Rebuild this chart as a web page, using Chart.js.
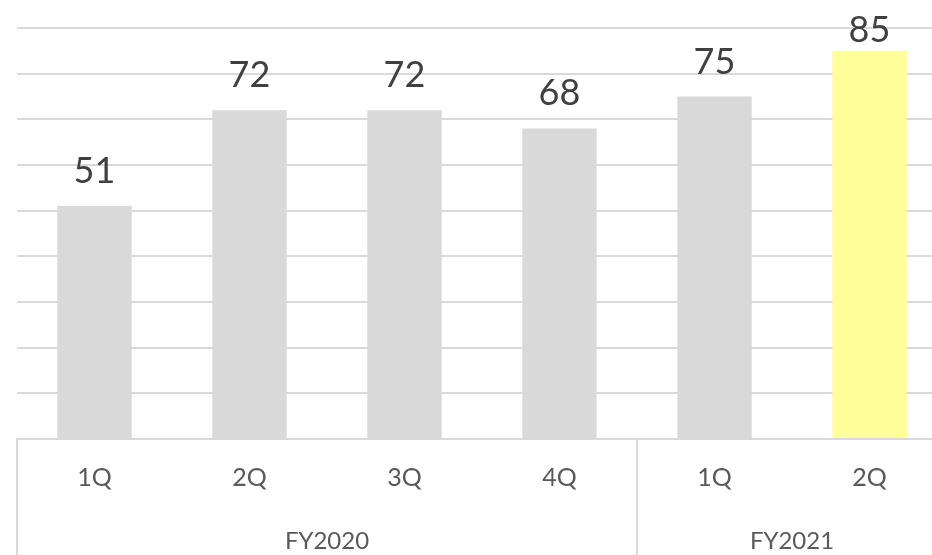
<!DOCTYPE html>
<html>
<head>
<meta charset="utf-8">
<script src="https://cdn.jsdelivr.net/npm/chart.js@4"></script>
<style>
  html, body { margin: 0; padding: 0; background: #fff; overflow: hidden; }
  canvas { display: block; }
</style>
</head>
<body>
<canvas id="chart" width="948" height="555"></canvas>
<script>
// data
const quarters = ["1Q", "2Q", "3Q", "4Q", "1Q", "2Q"]
const values = [51, 72, 72, 68, 75, 85]
const barColors = ["#d9d9d9", "#d9d9d9", "#d9d9d9", "#d9d9d9", "#d9d9d9", "#ffff99"]
const years = ["FY2020", "FY2021"]
const yearSizes = [4, 2]

// value labels above bars
const barLabels = {
  id: "barLabels",
  afterDatasetsDraw(chart) {
    const ctx = chart.ctx
    const meta = chart.getDatasetMeta(0)
    ctx.save()
    ctx.font = "36px Lato"
    ctx.fillStyle = "#404040"
    ctx.textAlign = "center"
    ctx.textBaseline = "alphabetic"
    meta.data.forEach((bar, i) => {
      const y = Math.max(bar.y - 23, 42)
      ctx.fillText(values[i], bar.x, y)
    })
    ctx.restore()
  }
}

// year group labels and separators under the axis
const yearGroups = {
  id: "yearGroups",
  afterDraw(chart) {
    const ctx = chart.ctx
    const x = chart.scales.x
    const half = (x.getPixelForValue(1) - x.getPixelForValue(0)) / 2
    const top = chart.chartArea.bottom
    const bottom = chart.height
    ctx.save()
    ctx.strokeStyle = "#d9d9d9"
    ctx.lineWidth = 2
    ctx.font = "24px Lato"
    ctx.fillStyle = "#595959"
    ctx.textAlign = "center"
    ctx.textBaseline = "middle"
    let start = 0
    years.forEach((year, g) => {
      const end = start + yearSizes[g] - 1
      const left = x.getPixelForValue(start) - half
      const right = x.getPixelForValue(end) + half
      ctx.beginPath()
      ctx.moveTo(left, top)
      ctx.lineTo(left, bottom)
      ctx.moveTo(right, top)
      ctx.lineTo(right, bottom)
      ctx.stroke()
      ctx.fillText(year, (left + right) / 2, 541)
      start = end + 1
    })
    ctx.restore()
  }
}

new Chart(document.getElementById("chart"), {
  type: "bar",
  data: {
    labels: quarters,
    datasets: [
      {
        data: values,
        backgroundColor: barColors,
        borderWidth: 0,
        barPercentage: 0.48,
        categoryPercentage: 1,
      },
    ],
  },
  options: {
    responsive: false,
    animation: false,
    layout: { padding: { top: 28, left: 0, right: 1 } },
    plugins: {
      legend: { display: false },
      tooltip: { enabled: false },
    },
    scales: {
      x: {
        grid: { display: false },
        border: { display: true, color: "#d9d9d9", width: 2 },
        ticks: {
          color: "#595959",
          font: { family: "Lato", size: 25 },
          padding: 16,
          maxRotation: 0,
        },
        afterFit(scale) { scale.height = 116 },
      },
      y: {
        min: 0,
        max: 90,
        ticks: { display: false, stepSize: 10 },
        grid: { color: "#d9d9d9", lineWidth: 2, drawTicks: false },
        border: { display: false },
        afterFit(scale) { scale.width = 17 },
      },
    },
  },
  plugins: [barLabels, yearGroups],
})
</script>
</body>
</html>
